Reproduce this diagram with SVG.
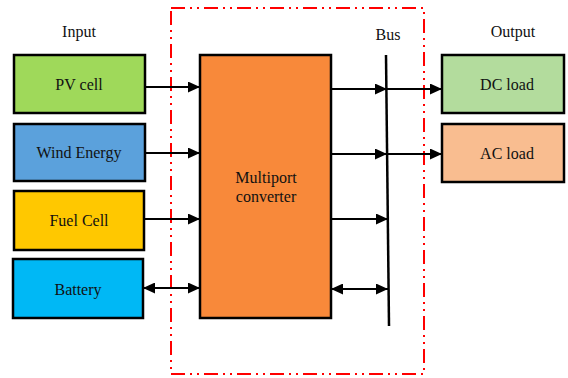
<svg xmlns="http://www.w3.org/2000/svg" width="568" height="378" viewBox="0 0 568 378">
<defs>
<marker id="ah" viewBox="0 0 12 11" refX="12" refY="5.5" markerWidth="12" markerHeight="11" markerUnits="userSpaceOnUse" orient="auto-start-reverse">
<path d="M0,0 L12,5.5 L0,11 z" fill="#000"/>
</marker>
<style>
.box{stroke:#000;stroke-width:2.5}
.t{font-family:"Liberation Serif",serif;font-size:16px;fill:#111;text-anchor:middle}
.c{stroke:#000;stroke-width:2;fill:none}
</style>
</defs>
<rect x="0" y="0" width="568" height="378" fill="#fff"/>
<rect x="171" y="8" width="253" height="366" fill="none" stroke="#ff0000" stroke-width="2" stroke-dasharray="14 5 2 5 2 5"/>
<text class="t" x="79" y="37">Input</text>
<text class="t" x="388" y="40">Bus</text>
<text class="t" x="513" y="37">Output</text>
<g id="pv"><rect class="box" x="14" y="55" width="131" height="58" fill="#9fd95a"/><text class="t" x="79" y="90">PV cell</text></g>
<g id="wind"><rect class="box" x="14" y="124" width="131" height="57" fill="#5ba1dc"/><text class="t" x="79" y="158">Wind Energy</text></g>
<g id="fuel"><rect class="box" x="14" y="191" width="130" height="59" fill="#ffc800"/><text class="t" x="79" y="226">Fuel Cell</text></g>
<g id="battery"><rect class="box" x="13" y="259" width="130" height="59" fill="#00b8f5"/><text class="t" x="78" y="295">Battery</text></g>
<g id="converter"><rect class="box" x="200" y="55" width="131" height="263" fill="#f8893a"/><text class="t" x="266" y="183">Multiport</text><text class="t" x="266" y="202">converter</text></g>
<g id="dcload"><rect class="box" x="442" y="55" width="122" height="58" fill="#b3dc9d"/><text class="t" x="507" y="90">DC load</text></g>
<g id="acload"><rect class="box" x="442" y="124" width="122" height="58" fill="#f9bd90"/><text class="t" x="507" y="159">AC load</text></g>
<g id="connectors">
<line x1="386" y1="55" x2="389" y2="326" stroke="#000" stroke-width="2.5"/>
<line class="c" x1="145" y1="87" x2="200" y2="87" marker-end="url(#ah)"/>
<line class="c" x1="145" y1="153" x2="200" y2="153" marker-end="url(#ah)"/>
<line class="c" x1="144" y1="219" x2="200" y2="219" marker-end="url(#ah)"/>
<line class="c" x1="143" y1="288" x2="200" y2="288" marker-start="url(#ah)" marker-end="url(#ah)"/>
<line class="c" x1="331" y1="89" x2="387" y2="89" marker-end="url(#ah)"/>
<line class="c" x1="387" y1="89" x2="442" y2="89" marker-end="url(#ah)"/>
<line class="c" x1="331" y1="154" x2="387" y2="154" marker-end="url(#ah)"/>
<line class="c" x1="387" y1="154" x2="442" y2="154" marker-end="url(#ah)"/>
<line class="c" x1="331" y1="219" x2="388" y2="219" marker-end="url(#ah)"/>
<line class="c" x1="331" y1="289" x2="388" y2="289" marker-start="url(#ah)" marker-end="url(#ah)"/>
</g>
</svg>
